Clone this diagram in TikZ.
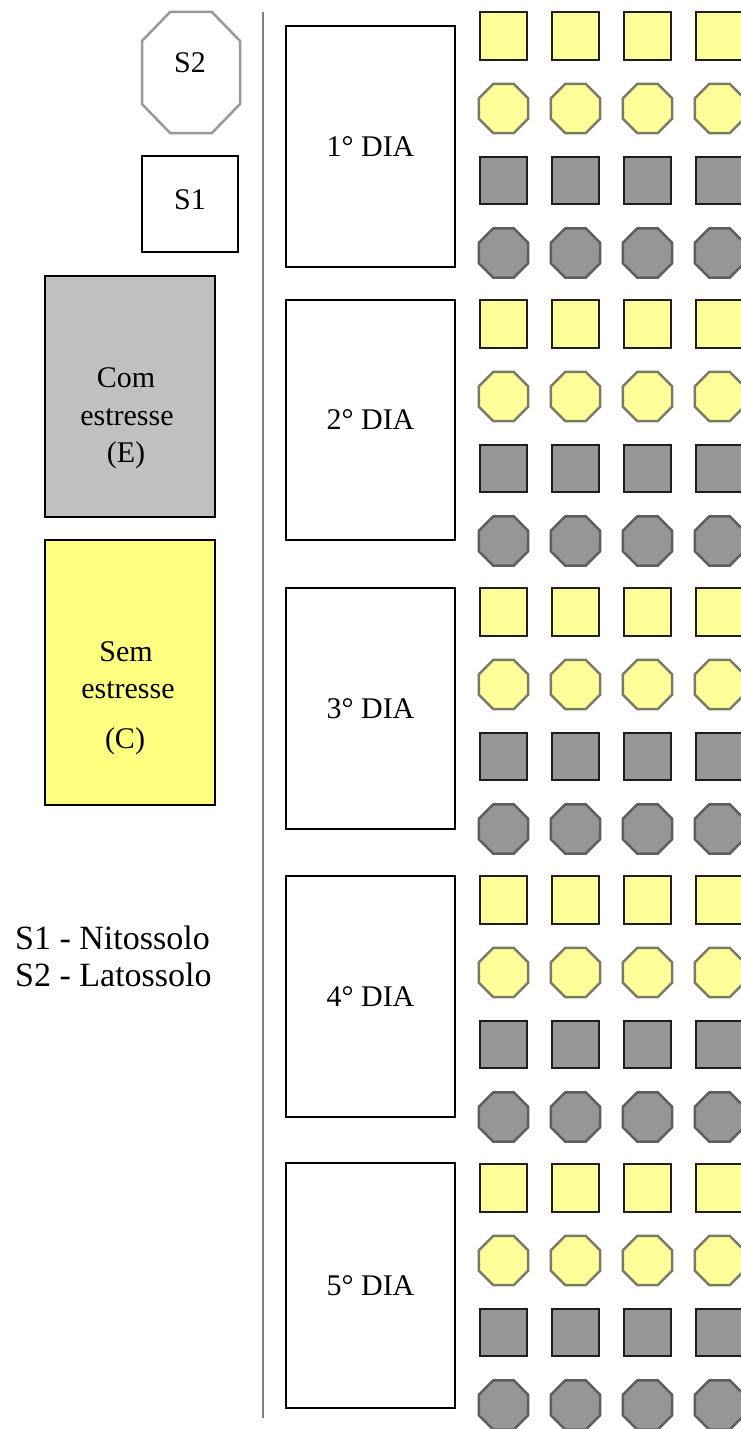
\documentclass[tikz,border=0pt]{standalone}
\usepackage{fontspec}
\setmainfont{Liberation Serif}
\usetikzlibrary{shapes.geometric}
\definecolor{ysq}{HTML}{FFFF99}
\definecolor{semfill}{HTML}{FFFF80}
\definecolor{comfill}{HTML}{C0C0C0}
\definecolor{gfill}{HTML}{969696}
\definecolor{yoctline}{HTML}{7A7A6A}
\definecolor{goctline}{HTML}{5E5E5E}
\definecolor{sqline}{HTML}{1E1E1E}
\definecolor{s2line}{HTML}{999999}
\definecolor{vcol}{HTML}{808080}
\begin{document}
\begin{tikzpicture}[x=1pt,y=-1pt,
  sqbox/.style={rectangle,draw=sqline,line width=2pt,minimum size=47.5pt,inner sep=0pt},
  octbox/.style={regular polygon,regular polygon sides=8,line width=2.5pt,minimum size=53.5pt,inner sep=0pt},
  yq/.style={sqbox,fill=ysq},
  gq/.style={sqbox,fill=gfill},
  yo/.style={octbox,fill=ysq,draw=yoctline},
  go/.style={octbox,fill=gfill,draw=goctline},
  daybox/.style={rectangle,draw=black,line width=1.4pt,minimum width=169pt,inner sep=0pt,font=\fontsize{30}{36}\selectfont},
  bigbox/.style={rectangle,draw=black,line width=1.4pt,minimum width=170pt,inner sep=0pt},
  lbl/.style={inner sep=0pt,font=\fontsize{30}{36}\selectfont},
  leg/.style={inner sep=0pt,font=\fontsize{34}{40}\selectfont},
  vline/.style={draw=vcol,line width=2pt}]
\clip (0,0) rectangle (741,1429);
\fill[white] (0,0) rectangle (741,1429);

% left column
\draw[draw=s2line,line width=2.5pt,fill=white] (170,12) -- (212,12) -- (240,41) -- (240,104) -- (212,133) -- (170,133) -- (142,104) -- (142,41) -- cycle;
\node[lbl,anchor=base] (s2) at (190,73) {S2};
\node[rectangle,draw=black,line width=1.4pt,minimum width=96pt,minimum height=96pt,inner sep=0pt] (s1box) at (190,204) {};
\node[lbl,anchor=base] (s1) at (190,209) {S1};

\node[bigbox,fill=comfill,minimum height=241pt] (combox) at (130,396.5) {};
\node[lbl,anchor=base] (com1) at (126,387) {Com};
\node[lbl,anchor=base] (com2) at (127,425) {estresse};
\node[lbl,anchor=base] (com3) at (126,462) {(E)};

\node[bigbox,fill=semfill,minimum height=265pt] (sembox) at (130,672.5) {};
\node[lbl,anchor=base] (sem1) at (126,661) {Sem};
\node[lbl,anchor=base] (sem2) at (128,698) {estresse};
\node[lbl,anchor=base] (sem3) at (125,748) {(C)};

\node[leg,anchor=base west] (leg1) at (15,949) {S1 - Nitossolo};
\node[leg,anchor=base west] (leg2) at (15,986) {S2 - Latossolo};

% separator
\coordinate (vtop) at (263,12);
\coordinate (vbot) at (263,1418);
\draw[vline] (vtop) -- (vbot);

% day boxes
\node[daybox,minimum height=241pt] (d1) at (370.5,146.5) {1° DIA};
\node[daybox,minimum height=240pt] (d2) at (370.5,420) {2° DIA};
\node[daybox,minimum height=241pt] (d3) at (370.5,708.5) {3° DIA};
\node[daybox,minimum height=241pt] (d4) at (370.5,996.5) {4° DIA};
\node[daybox,minimum height=245pt] (d5) at (370.5,1285.5) {5° DIA};

% grid
\foreach \g in {0,...,4} {
  \foreach \c [count=\ci] in {503.5,575.5,647.5,719.5} {
    \node[yq] (ys-\g-\ci) at (\c,{36+288*\g}) {};
    \node[yo] (yo-\g-\ci) at (\c,{108.5+288*\g}) {};
    \node[gq] (gs-\g-\ci) at (\c,{180.5+288*\g}) {};
    \node[go] (go-\g-\ci) at (\c,{253+288*\g}) {};
  }
}
\end{tikzpicture}
\end{document}
